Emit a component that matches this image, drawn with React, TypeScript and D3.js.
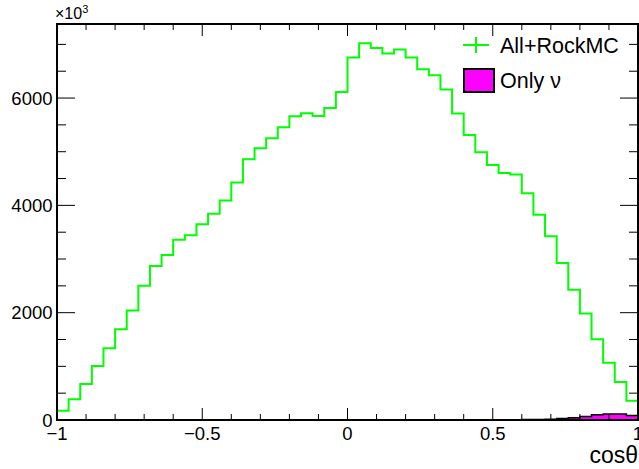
import React from "react";
import * as d3 from "d3";

const binLo = -1;
const binHi = 1;
const allRockMC = [
  173, 385, 670, 1006, 1335, 1689, 2043, 2501, 2868, 3073,
  3358, 3445, 3650, 3842, 4091, 4426, 4860, 5065, 5251, 5456,
  5661, 5717, 5667, 5816, 6114, 6754, 7020, 6933, 6828, 6903,
  6754, 6536, 6425, 6158, 5711, 5313, 4991, 4754, 4605, 4575,
  4227, 3823, 3426, 2924, 2427, 1987, 1503, 1067, 708, 360,
];
const onlyNu = [
  0, 0, 0, 0, 0, 0, 0, 0, 0, 0,
  0, 0, 0, 0, 0, 0, 0, 0, 0, 0,
  0, 0, 0, 0, 0, 0, 0, 0, 0, 0,
  0, 0, 0, 1, 2, 2, 3, 4, 5, 6,
  8, 10, 15, 28, 42, 66, 98, 112, 110, 82,
];
const xTickValues = [-1, -0.5, 0, 0.5, 1];
const xTickLabels = ["\u22121", "\u22120.5", "0", "0.5", "1"];
const yTickValues = [0, 2000, 4000, 6000];
const yTickLabels = ["0", "2000", "4000", "6000"];
const legendLabels = ["All+RockMC", "Only \u03bd"];

const W = 639;
const H = 469;
const L = 57;
const R = 638;
const T = 24;
const B = 420;
const FONT = "Liberation Sans, Arial, Helvetica, sans-serif";

function stepPath(vals: number[], x: d3.ScaleLinear<number, number>, y: d3.ScaleLinear<number, number>) {
  const n = vals.length;
  const w = (binHi - binLo) / n;
  const p = d3.path();
  p.moveTo(x(binLo), y(0));
  vals.forEach((v, i) => {
    p.lineTo(x(binLo + i * w), y(v));
    p.lineTo(x(binLo + (i + 1) * w), y(v));
  });
  p.lineTo(x(binHi), y(0));
  return p.toString();
}

export default function App() {
  const x = d3.scaleLinear().domain([binLo, binHi]).range([L, R]);
  const y = d3.scaleLinear().domain([0, 7380]).range([B, T]);
  const xMinor = d3.range(-10, 11).map((i) => i / 10);
  const yMinor = d3.range(0, 7380, 500);
  const greenPath = stepPath(allRockMC, x, y);
  const nuPath = stepPath(onlyNu, x, y);
  return (
    <svg
      width={W}
      height={H}
      style={{ position: "absolute", left: 0, top: 0, display: "block", background: "#fff" }}
      fontFamily={FONT}
    >
      <rect x={0} y={0} width={W} height={H} fill="#fff" />
      {/* histograms */}
      <path d={greenPath} fill="none" stroke="#00ff00" strokeWidth={2} />
      <path d={nuPath} fill="#ff00ff" stroke="#000" strokeWidth={1.5} />
      {/* x ticks */}
      {xMinor.map((v, i) => {
        const major = xTickValues.some((t) => Math.abs(t - v) < 1e-9);
        const len = major ? 12 : 6;
        return (
          <g key={"xm" + i} stroke="#000" strokeWidth={1}>
            <line x1={x(v)} x2={x(v)} y1={B} y2={B - len} />
            <line x1={x(v)} x2={x(v)} y1={T} y2={T + len} />
          </g>
        );
      })}
      {/* y ticks */}
      {yMinor.map((v, i) => {
        const major = yTickValues.includes(v);
        const len = major ? 18 : 9;
        return (
          <g key={"ym" + i} stroke="#000" strokeWidth={1}>
            <line x1={L} x2={L + len} y1={y(v)} y2={y(v)} />
            <line x1={R} x2={R - len} y1={y(v)} y2={y(v)} />
          </g>
        );
      })}
      {/* frame */}
      <rect x={L} y={T} width={R - L} height={B - T} fill="none" stroke="#000" strokeWidth={2} />
      {/* x labels */}
      {xTickValues.map((v, i) => (
        <text key={"xl" + i} x={x(v)} y={440} fontSize={18.5} textAnchor="middle" fill="#000">
          {xTickLabels[i]}
        </text>
      ))}
      {/* y labels */}
      {yTickValues.map((v, i) => (
        <text key={"yl" + i} x={52.5} y={y(v) + 6.5} fontSize={18.5} textAnchor="end" fill="#000">
          {yTickLabels[i]}
        </text>
      ))}
      <text x={55} y={19} fontSize={16} fill="#000">
        {"\u00d710"}
        <tspan dy={-6} fontSize={11}>3</tspan>
      </text>
      <text x={638} y={463} fontSize={23} textAnchor="end" fill="#000">cosθ</text>
      {/* legend */}
      <line x1={463} x2={489} y1={45} y2={45} stroke="#00ff00" strokeWidth={2} />
      <line x1={476} x2={476} y1={37} y2={53} stroke="#00ff00" strokeWidth={2} />
      <text x={500} y={53} fontSize={21.5} fill="#000">{legendLabels[0]}</text>
      <rect x={464} y={69} width={30} height={23} fill="#ff00ff" stroke="#000" strokeWidth={2} />
      <text x={500} y={88} fontSize={21.5} fill="#000">{legendLabels[1]}</text>
    </svg>
  );
}
